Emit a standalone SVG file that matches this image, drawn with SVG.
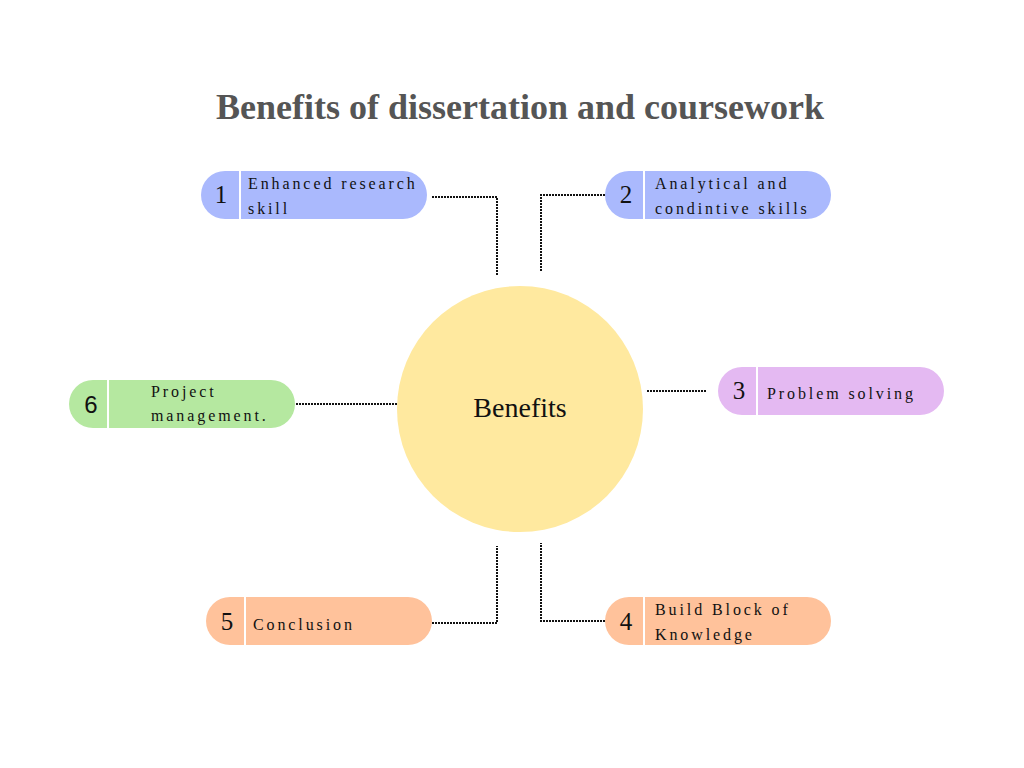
<svg xmlns="http://www.w3.org/2000/svg" width="1024" height="768" viewBox="0 0 1024 768">
  <style>
    .title { font-family: "Liberation Serif", serif; font-weight: bold; font-size: 36px; fill: #555555; }
    .num { font-family: "Liberation Serif", serif; font-size: 25px; fill: #111111; }
    .num-sans { font-family: "Liberation Sans", sans-serif; font-size: 24px; fill: #111111; }
    .lbl { font-family: "Liberation Serif", serif; font-size: 16px; letter-spacing: 2.9px; fill: #111111; }
    .hub { font-family: "Liberation Serif", serif; font-size: 28px; fill: #111111; }
    .div { stroke: #ffffff; stroke-width: 2; }
    .blue { fill: #AAB9FD; }
    .purple { fill: #E4B9F2; }
    .green { fill: #B5E8A0; }
    .orange { fill: #FFC29B; }
    .link { fill: none; stroke: #111111; stroke-width: 2; stroke-dasharray: 2 1; }
  </style>

  <text class="title" x="520" y="119" text-anchor="middle">Benefits of dissertation and coursework</text>

  <g id="connectors">
    <polyline class="link" points="432,197 497,197 497,275"/>
    <polyline class="link" points="605,195 541,195 541,272"/>
    <line class="link" x1="296" y1="404" x2="398" y2="404"/>
    <line class="link" x1="647" y1="391" x2="707" y2="391"/>
    <polyline class="link" points="432,623 497,623 497,546"/>
    <polyline class="link" points="605,621 541,621 541,543"/>
  </g>

  <g id="hub">
    <circle cx="520" cy="409" r="123" fill="#FFE99F"/>
    <text class="hub" x="520" y="417" text-anchor="middle">Benefits</text>
  </g>

  <g id="node1">
    <rect class="blue" x="201" y="171" width="226" height="48" rx="24"/>
    <line class="div" x1="240" y1="171" x2="240" y2="219"/>
    <text class="num" x="221" y="203" text-anchor="middle">1</text>
    <text class="lbl" x="248" y="189">Enhanced research</text>
    <text class="lbl" x="248" y="214">skill</text>
  </g>

  <g id="node2">
    <rect class="blue" x="605" y="171" width="226" height="48" rx="24"/>
    <line class="div" x1="644" y1="171" x2="644" y2="219"/>
    <text class="num" x="626" y="203" text-anchor="middle">2</text>
    <text class="lbl" x="655" y="189">Analytical and</text>
    <text class="lbl" x="655" y="214">condintive skills</text>
  </g>

  <g id="node3">
    <rect class="purple" x="718" y="367" width="226" height="48" rx="24"/>
    <line class="div" x1="757" y1="367" x2="757" y2="415"/>
    <text class="num" x="739" y="399" text-anchor="middle">3</text>
    <text class="lbl" x="767" y="399">Problem solving</text>
  </g>

  <g id="node4">
    <rect class="orange" x="605" y="597" width="226" height="48" rx="24"/>
    <line class="div" x1="644" y1="597" x2="644" y2="645"/>
    <text class="num" x="626" y="630" text-anchor="middle">4</text>
    <text class="lbl" x="655" y="615">Build Block of</text>
    <text class="lbl" x="655" y="640">Knowledge</text>
  </g>

  <g id="node5">
    <rect class="orange" x="206" y="597" width="226" height="48" rx="24"/>
    <line class="div" x1="245" y1="597" x2="245" y2="645"/>
    <text class="num" x="227" y="630" text-anchor="middle">5</text>
    <text class="lbl" x="253" y="630">Conclusion</text>
  </g>

  <g id="node6">
    <rect class="green" x="69" y="380" width="226" height="48" rx="24"/>
    <line class="div" x1="108" y1="380" x2="108" y2="428"/>
    <text class="num-sans" x="91" y="413" text-anchor="middle">6</text>
    <text class="lbl" x="151" y="397">Project</text>
    <text class="lbl" x="151" y="421">management.</text>
  </g>
</svg>
